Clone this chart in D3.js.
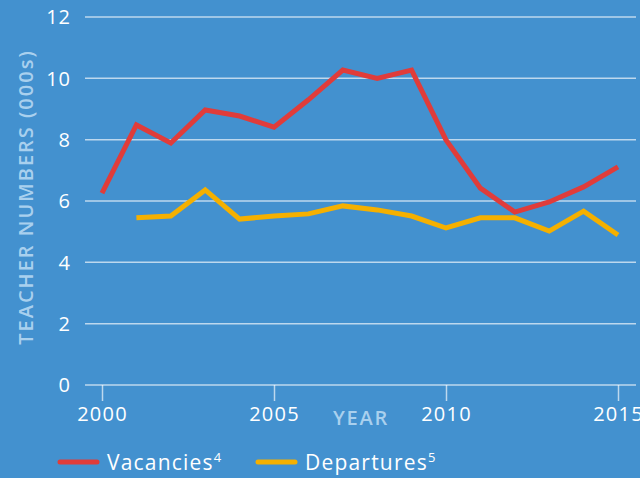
<!DOCTYPE html>
<html>
<head>
<meta charset="utf-8">
<script src="https://cdn.jsdelivr.net/npm/d3@7"></script>
<style>
  body { margin: 0; background: #4391cf; }
  svg { display: block; font-family: "Open Sans", "Noto Sans", sans-serif; }
</style>
</head>
<body>
<svg id="chart" width="640" height="478"></svg>
<script>
const years = d3.range(2000, 2016);
const vacancies = [6.26, 8.48, 7.89, 8.97, 8.77, 8.41, 9.3, 10.27, 10.0, 10.27, 7.99, 6.42, 5.64, 5.97, 6.46, 7.11];
const departures = [null, 5.45, 5.51, 6.36, 5.41, 5.51, 5.58, 5.84, 5.71, 5.51, 5.12, 5.45, 5.45, 5.02, 5.67, 4.89];
const yTicks = [0, 2, 4, 6, 8, 10, 12];
const xTicks = [2000, 2005, 2010, 2015];

const svg = d3.select('#chart');
const bg = '#4391cf';
const titleColor = '#a9d0ee';

svg.append('rect').attr('width', 640).attr('height', 478).attr('fill', bg);

const x = d3.scaleLinear().domain([2000, 2015]).range([102, 618]);
const y = d3.scaleLinear().domain([0, 12]).range([385, 17]);

// Gridlines
svg.append('g')
  .selectAll('line')
  .data(yTicks)
  .join('line')
  .attr('x1', 85)
  .attr('x2', 636)
  .attr('y1', d => y(d))
  .attr('y2', d => y(d))
  .style('stroke', 'rgba(255,255,255,0.65)')
  .style('stroke-width', 1.5);

// Y labels
svg.append('g')
  .selectAll('text')
  .data(yTicks)
  .join('text')
  .attr('x', 71)
  .attr('y', d => y(d))
  .attr('dy', '0.36em')
  .attr('text-anchor', 'end')
  .style('fill', '#fff')
  .style('font-size', '20px')
  .style('font-weight', 500)
  .style('letter-spacing', '1px')
  .text(d => d);

// X axis ticks
const xAxis = svg.append('g')
  .attr('transform', `translate(0,${y(0)})`)
  .call(d3.axisBottom(x).tickValues(xTicks).tickFormat(d3.format('d')).tickSize(16).tickPadding(6));
xAxis.select('.domain').remove();
xAxis.selectAll('.tick line').style('stroke', 'rgba(255,255,255,0.65)').style('stroke-width', 1.5);
xAxis.selectAll('.tick text')
  .style('fill', '#fff')
  .style('font-size', '20px')
  .style('font-weight', 500)
  .style('letter-spacing', '1.2px')
  .style('font-family', '"Open Sans", "Noto Sans", sans-serif');

// Axis titles
svg.append('text')
  .attr('transform', 'translate(33,197) rotate(-90)')
  .attr('text-anchor', 'middle')
  .style('fill', titleColor)
  .style('font-size', '20px')
  .style('font-weight', 600)
  .style('letter-spacing', '2px')
  .text('TEACHER NUMBERS (000s)');

svg.append('text')
  .attr('x', 361)
  .attr('y', 425)
  .attr('text-anchor', 'middle')
  .style('fill', titleColor)
  .style('font-size', '20px')
  .style('font-weight', 600)
  .style('letter-spacing', '1.8px')
  .text('YEAR');

// Lines
const line = d3.line()
  .defined(d => d[1] != null)
  .x(d => x(d[0]))
  .y(d => y(d[1]));

const series = [
  { name: 'Vacancies', sup: '4', color: '#e03c3a', values: vacancies },
  { name: 'Departures', sup: '5', color: '#f5b000', values: departures }
];

svg.append('g')
  .selectAll('path')
  .data(series.slice().reverse())
  .join('path')
  .attr('d', d => line(years.map((yr, i) => [yr, d.values[i]])))
  .style('fill', 'none')
  .style('stroke', d => d.color)
  .style('stroke-width', 5)
  .style('stroke-linejoin', 'miter')
  .style('stroke-linecap', 'butt');

// Legend
const legendX = [60, 258];
const legend = svg.append('g')
  .selectAll('g')
  .data(series)
  .join('g')
  .attr('transform', (d, i) => `translate(${legendX[i]},462)`);

legend.append('line')
  .attr('x1', 0)
  .attr('x2', 37)
  .style('stroke', d => d.color)
  .style('stroke-width', 5)
  .style('stroke-linecap', 'round');

legend.append('text')
  .attr('x', 47)
  .attr('dy', '0.36em')
  .style('fill', '#fff')
  .style('font-size', '21px')
  .style('font-weight', 500)
  .style('letter-spacing', '1.2px')
  .text(d => d.name)
  .append('tspan')
  .attr('dy', '-0.55em')
  .style('font-size', '13px')
  .text(d => d.sup);
</script>
</body>
</html>
